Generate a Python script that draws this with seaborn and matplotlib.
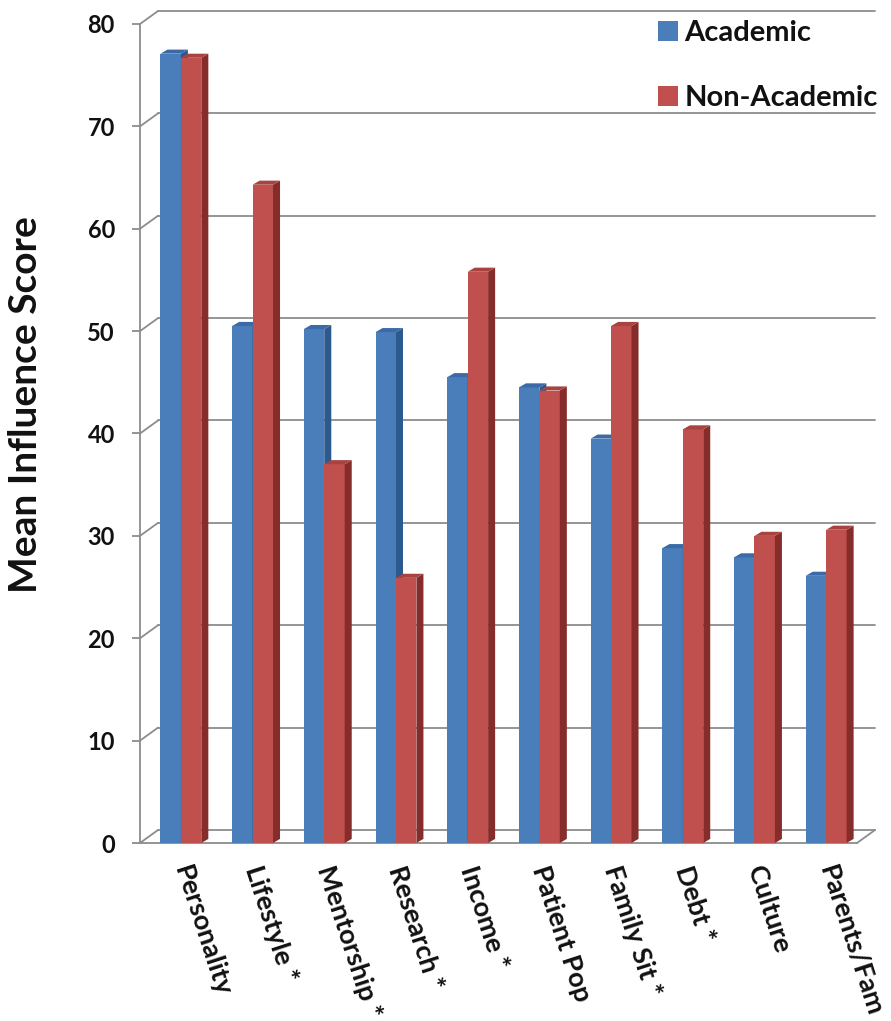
import matplotlib
matplotlib.use("Agg")
import matplotlib.pyplot as plt
import seaborn as sns
import pandas as pd
from matplotlib.colors import to_rgba
from matplotlib.patches import Polygon, Patch


categories = ["Personality", "Lifestyle *", "Mentorship *", "Research *", "Income *",
              "Patient Pop", "Family Sit *", "Debt *", "Culture", "Parents/Fam"]
academic = [77.1, 50.5, 50.2, 49.9, 45.5, 44.5, 39.5, 28.8, 27.9, 26.1]
non_academic = [76.7, 64.3, 37.0, 25.9, 55.8, 44.2, 50.5, 40.4, 30.0, 30.6]
groups = ["Academic", "Non-Academic"]
y_ticks = [0, 10, 20, 30, 40, 50, 60, 70, 80]

FRONT = {"Academic": "#4a7ebb", "Non-Academic": "#c0504d"}
SIDE = {"Academic": "#2c5a8f", "Non-Academic": "#862c2a"}
TOP = {"Academic": "#3b6aa6", "Non-Academic": "#a84340"}
GRID = "#8c8c8c"
INK = "#111111"

sns.set_theme(style="white")
plt.rcParams["font.family"] = ["Lato", "DejaVu Sans"]

df = pd.DataFrame({
    "category": categories * 2,
    "score": academic + non_academic,
    "group": [groups[0]] * len(categories) + [groups[1]] * len(categories),
})

fig = plt.figure(figsize=(8.91, 10.21), dpi=100)
# front plane of the 3d box: x 140..857 px, y 843 (0) .. 24 (80)
ax = fig.add_axes([140 / 891, 1 - 843 / 1021, 717 / 891, (843 - 24) / 1021])

sns.barplot(data=df, x="category", y="score", hue="group", order=categories,
            hue_order=groups, palette=FRONT, width=0.57, saturation=1,
            errorbar=None, legend=False, linewidth=0, ax=ax)

n = len(categories)
shift = 0.07
ax.set_xlim(-0.5 - shift, n - 0.5 - shift)
ax.set_ylim(0, 80)

# fake 3d: side and top faces taken from the bars seaborn drew
ddx, ddy = 0.098, 0.4
for bar in list(ax.patches):
    fc = bar.get_facecolor()
    grp = groups[0] if abs(fc[0] - to_rgba(FRONT[groups[0]])[0]) < 0.05 else groups[1]
    z = 3 if grp == groups[0] else 4
    bar.set_zorder(z)
    x0, w, h = bar.get_x(), bar.get_width(), bar.get_height()
    x1 = x0 + w
    side = Polygon([(x1, 0), (x1 + ddx, ddy), (x1 + ddx, h + ddy), (x1, h)],
                   closed=True, facecolor=SIDE[grp], edgecolor="none", zorder=z + 0.1)
    top = Polygon([(x0, h), (x1, h), (x1 + ddx, h + ddy), (x0 + ddx, h + ddy)],
                  closed=True, facecolor=TOP[grp], edgecolor="none", zorder=z + 0.1)
    ax.add_patch(side)
    ax.add_patch(top)

# walls: left wall diagonals, back wall gridlines, floor
tr = ax.get_yaxis_transform()
bx, by = 18 / 717, 1.27
for v in y_ticks:
    ax.plot([0, bx], [v, v + by], color=GRID, lw=1.3, transform=tr, clip_on=False, zorder=1)
    ax.plot([bx, 1 + bx], [v + by, v + by], color=GRID, lw=1.3, transform=tr,
            clip_on=False, zorder=1)
ax.plot([1, 1 + bx], [0, by], color=GRID, lw=1.3, transform=tr, clip_on=False, zorder=1)

for s in ["top", "right"]:
    ax.spines[s].set_visible(False)
for s in ["left", "bottom"]:
    ax.spines[s].set_color(GRID)
    ax.spines[s].set_linewidth(1.3)

ax.set_yticks(y_ticks)
ax.set_yticklabels([str(v) for v in y_ticks], fontsize=17, fontweight="bold", color=INK)
ax.tick_params(axis="y", direction="out", length=6, width=1.3, color=GRID, pad=12, left=True)

ax.set_xticks(range(n))
ax.set_xticklabels(categories, rotation=-72, ha="left", va="center",
                   rotation_mode="anchor", fontsize=19.5, fontweight="bold", color=INK)
ax.tick_params(axis="x", length=0, pad=17)

ax.set_xlabel("")
ax.set_ylabel("Mean Influence Score", fontsize=28, fontweight="bold", color=INK)
ax.yaxis.set_label_coords(-0.135, 0.535)

handles = [Patch(facecolor=FRONT[g], edgecolor="none") for g in groups]
fig.legend(handles, groups, loc="upper left", bbox_to_anchor=(658 / 891, 1 - 20 / 1021),
           frameon=False, prop={"weight": "bold", "size": 21}, labelcolor=INK,
           handlelength=0.7, handleheight=0.7, handletextpad=0.2,
           labelspacing=1.35, borderpad=0, borderaxespad=0)

fig.savefig("out.png", dpi=100)
